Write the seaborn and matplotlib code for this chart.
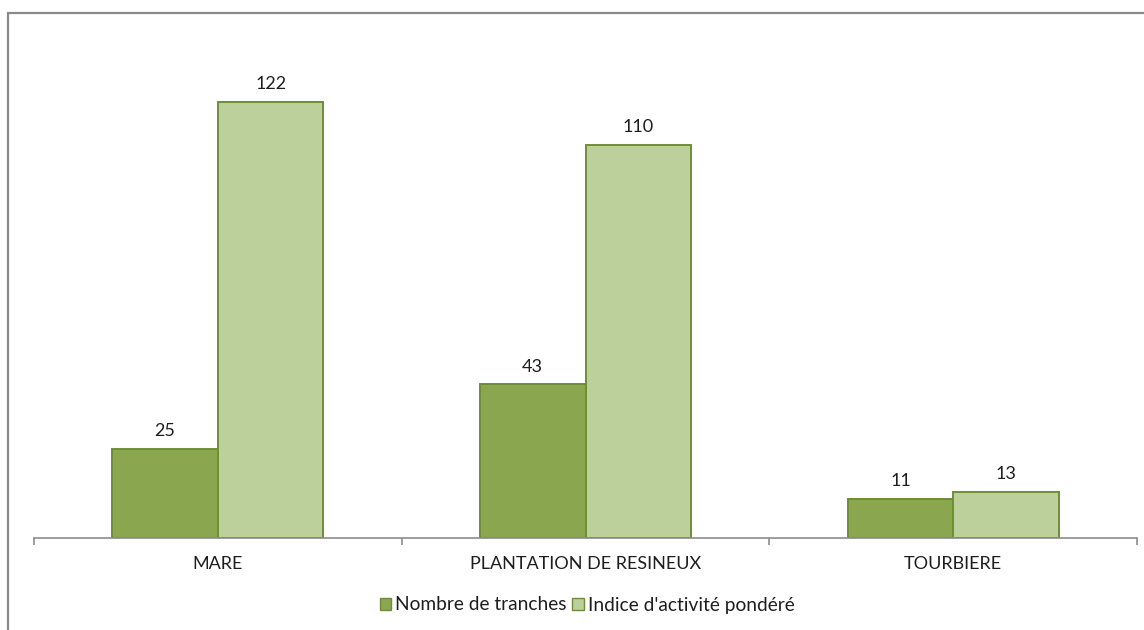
import matplotlib
matplotlib.use("Agg")
import matplotlib.pyplot as plt
from matplotlib.patches import Rectangle, Patch
from matplotlib.ticker import FixedLocator
import seaborn as sns
import pandas as pd

# Data
categories = ["MARE", "PLANTATION DE RESINEUX", "TOURBIERE"]
series_names = ["Nombre de tranches", "Indice d'activité pondéré"]
nombre_tranches = [25, 43, 11]
indice_activite = [122, 110, 13]

df = pd.DataFrame({
    "habitat": categories * 2,
    "serie": [series_names[0]] * 3 + [series_names[1]] * 3,
    "valeur": nombre_tranches + indice_activite,
})

sns.set_theme(style="white")
plt.rcParams["font.family"] = ["Lato", "DejaVu Sans"]

fill_colors = ["#8AA64E", "#BBD09A"]
edge_color = "#6E8E36"
text_color = "#1E1E1E"
axis_grey = "#8C8C8C"

fig = plt.figure(figsize=(11.44, 6.30), dpi=100)
ax = fig.add_axes([34 / 1144, 1 - 538 / 630, (1137 - 34) / 1144, (538 - 37.6) / 630])

sns.barplot(data=df, x="habitat", y="valeur", hue="serie", order=categories,
            hue_order=series_names, palette=fill_colors, saturation=1,
            width=0.574, gap=0, edgecolor=edge_color, linewidth=1.4, ax=ax,
            legend=False)

ax.set_xlim(-0.5, 2.5)
ax.set_ylim(0, 140)
ax.set_xlabel("")
ax.set_ylabel("")
ax.set_yticks([])

for s in ["top", "right", "left"]:
    ax.spines[s].set_visible(False)
ax.spines["bottom"].set_color(axis_grey)
ax.spines["bottom"].set_linewidth(1.2)

ax.tick_params(axis="x", which="major", length=0, pad=13, labelsize=13,
               labelcolor=text_color)
ax.xaxis.set_minor_locator(FixedLocator([-0.5, 0.5, 1.5, 2.5]))
ax.tick_params(axis="x", which="minor", bottom=True, length=5, width=1.2,
               color=axis_grey, direction="out")

# Value labels above each bar
for container in ax.containers:
    ax.bar_label(container, labels=[f"{int(v)}" for v in container.datavalues],
                 padding=7, fontsize=13, color=text_color)

handles = [Patch(facecolor=c, edgecolor=edge_color, linewidth=1.0) for c in fill_colors]
fig.legend(handles, series_names, loc="center", bbox_to_anchor=(587 / 1144, 1 - 605 / 630),
           ncol=2, frameon=False, fontsize=13.8, handlelength=0.6, handleheight=0.6,
           handletextpad=0.2, columnspacing=0.3, labelcolor=text_color)

# Outer chart frame
fig.patches.append(Rectangle((8 / 1144, -0.1), 1.2, 1.1 - 13 / 630,
                             transform=fig.transFigure, fill=False,
                             edgecolor="#8A8A8A", linewidth=1.6, zorder=0))

fig.savefig("out.png", dpi=100)
